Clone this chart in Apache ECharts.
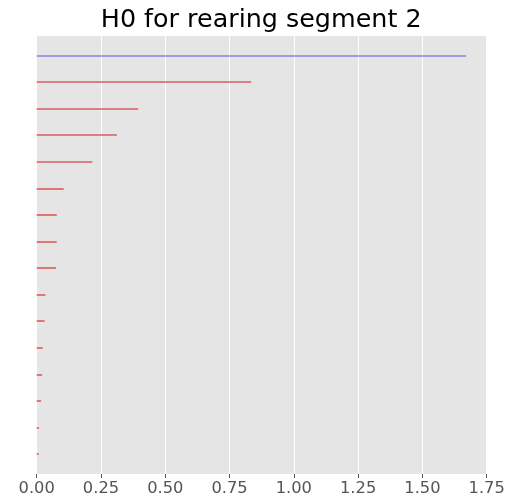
<!DOCTYPE html>
<html>
<head>
<meta charset="utf-8">
<script src="https://cdn.jsdelivr.net/npm/echarts@6/dist/echarts.min.js"></script>
<style>
html,body{margin:0;padding:0;background:#fff;}
#main{width:508px;height:499px;}
</style>
</head>
<body>
<div id="main"></div>
<script>
// barcode: one bar per row, top to bottom
var births = [0, 0, 0, 0, 0, 0, 0, 0, 0, 0, 0, 0, 0, 0, 0, 0];
var deaths = [1.67, 0.834, 0.395, 0.312, 0.216, 0.105, 0.078, 0.078, 0.075, 0.034, 0.031, 0.023, 0.021, 0.017, 0.009, 0.008];
var kinds = ['inf', 'fin', 'fin', 'fin', 'fin', 'fin', 'fin', 'fin', 'fin', 'fin', 'fin', 'fin', 'fin', 'fin', 'fin', 'fin'];
var titleText = 'H0 for rearing segment 2';

var colors = {inf: '#8484e2', fin: '#db5c5c'};

var rows = [];
for (var i = 0; i < deaths.length; i++) {
	rows.push([births[i], deaths[i], i, kinds[i]]);
}

var myChart = echarts.init(document.getElementById('main'));
var option = {
	backgroundColor: '#fff',
	animation: false,
	graphic: [{
		type: 'text',
		x: 261.2,
		y: 20.5,
		scaleX: 1.05,
		style: {
			text: titleText,
			fontFamily: 'DejaVu Sans',
			fontSize: 24.2,
			fill: '#000',
			textAlign: 'center',
			textVerticalAlign: 'middle'
		}
	}],
	grid: {
		left: 36.7,
		right: 21.3,
		top: 36,
		bottom: 25,
		show: true,
		backgroundColor: '#e5e5e5',
		borderWidth: 0
	},
	xAxis: {
		type: 'value',
		position: 'bottom',
		min: 0,
		max: 1.75,
		interval: 0.25,
		axisLine: {show: false, onZero: false},
		axisTick: {show: true, length: 4, lineStyle: {color: '#555'}},
		axisLabel: {
			fontFamily: 'DejaVu Sans', fontSize: 16.3, color: '#555', margin: 7,
			formatter: function (v) { return v.toFixed(2); }
		},
		splitLine: {show: true, lineStyle: {color: '#fff', width: 1}}
	},
	yAxis: {
		type: 'value',
		min: -0.74,
		max: 15.74,
		inverse: true,
		axisLine: {show: false, onZero: false},
		axisTick: {show: false},
		axisLabel: {show: false},
		splitLine: {show: false}
	},
	series: [{
		type: 'custom',
		data: rows,
		renderItem: function (params, api) {
			var a = api.coord([api.value(0), api.value(2)]);
			var b = api.coord([api.value(1), api.value(2)]);
			var y = Math.round(a[1]);
			var k = rows[params.dataIndex][3];
			return {
				type: 'line',
				shape: {x1: a[0], y1: y, x2: b[0], y2: y},
				style: {stroke: colors[k], lineWidth: 1.6}
			};
		}
	}]
};
myChart.setOption(option);
</script>
</body>
</html>
